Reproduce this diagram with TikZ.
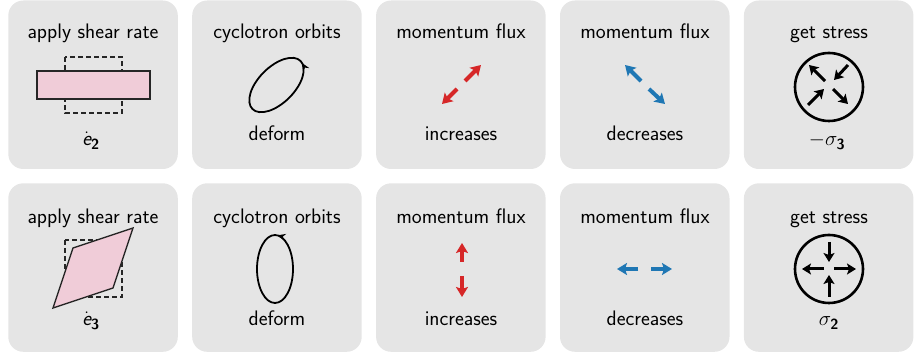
\documentclass[tikz,border=0pt]{standalone}
\usepackage{amsmath}
\usetikzlibrary{arrows.meta,decorations.markings}
\definecolor{panelgray}{RGB}{229,229,229}
\definecolor{shearpink}{RGB}{240,204,216}
\definecolor{fluxred}{RGB}{214,39,40}
\definecolor{fluxblue}{RGB}{31,119,180}
\begin{document}
\begin{tikzpicture}[x=1pt,y=-1pt,
  font=\sffamily\fontsize{21}{25}\selectfont,
  panel/.style={fill=panelgray, rounded corners=15pt},
  txt/.style={anchor=base, inner sep=0pt},
  dashedbox/.style={dashed, dash pattern=on 5pt off 3pt, line width=1.4pt, draw=black!85},
  shearshape/.style={draw=black!85, line width=1.4pt, fill=shearpink},
  orbit/.style={line width=1.8pt, postaction={decorate, decoration={markings,
      mark=at position #1 with {\arrow{Stealth[length=8pt,width=7pt]}}}}},
  redarrow/.style={draw=fluxred, line width=4pt, -{Stealth[length=10pt,width=12pt,inset=2pt]}},
  bluearrow/.style={draw=fluxblue, line width=4pt, -{Stealth[length=10pt,width=12pt,inset=2pt]}},
  stressarrow/.style={draw=black, line width=3pt, -{Stealth[length=9pt,width=11pt,inset=2pt]}},
  stresscircle/.style={draw=black, line width=2.6pt}
]
\useasboundingbox (0,0) rectangle (914,355);
% panels
\foreach \i in {0,...,4} {
  \foreach \t in {0.5,183.3} {
    \fill[panel] ({8.3+183.9*\i},\t) rectangle ++(169.5,168.5);
  }
}
% titles
\node[txt] (t11) at (93,39) {apply shear rate};
\node[txt] (t12) at (277,39) {cyclotron orbits};
\node[txt] (t13) at (461,39) {momentum flux};
\node[txt] (t14) at (645,39) {momentum flux};
\node[txt] (t15) at (829,39) {get stress};
\node[txt] (t21) at (93,224) {apply shear rate};
\node[txt] (t22) at (277,224) {cyclotron orbits};
\node[txt] (t23) at (461,224) {momentum flux};
\node[txt] (t24) at (645,224) {momentum flux};
\node[txt] (t25) at (829,224) {get stress};
% bottom labels
\node[txt] (b11) at (91,146) {$\dot{\text{\itshape e}}_{\text{\bfseries 2}}$};
\node[txt] (b12) at (277,141) {deform};
\node[txt] (b13) at (461,141) {increases};
\node[txt] (b14) at (645,141) {decreases};
\node[txt] (b15) at (827,146) {$-\sigma_{\text{\bfseries 3}}$};
\node[txt] (b21) at (91,326) {$\dot{\text{\itshape e}}_{\text{\bfseries 3}}$};
\node[txt] (b22) at (277,326) {deform};
\node[txt] (b23) at (461,326) {increases};
\node[txt] (b24) at (645,326) {decreases};
\node[txt] (b25) at (829,326) {$\sigma_{\text{\bfseries 2}}$};
% shear panels
\draw[dashedbox] (65,57) rectangle (122,113);
\draw[shearshape] (37,71) rectangle (150,99);
\draw[dashedbox] (65,240) rectangle (122,297);
\draw[shearshape] (53,308) -- (73,248) -- (133,228) -- (113,288) -- cycle;
% orbits
\draw[orbit=0.985, rotate around={45:(276.5,85)}] (276.5,85) ellipse [x radius=34pt, y radius=18pt];
\draw[orbit=0.235] (275,269) ellipse [x radius=18pt, y radius=34pt];
% red arrows
\coordinate (r1a) at (465,81); \coordinate (r1b) at (481,65);
\coordinate (r1c) at (457,89); \coordinate (r1d) at (442,104);
\draw[redarrow] (r1a) -- (r1b);
\draw[redarrow] (r1c) -- (r1d);
\coordinate (r2a) at (462,262); \coordinate (r2b) at (462,243);
\coordinate (r2c) at (462,276); \coordinate (r2d) at (462,297);
\draw[redarrow] (r2a) -- (r2b);
\draw[redarrow] (r2c) -- (r2d);
% blue arrows
\coordinate (u1a) at (641,81); \coordinate (u1b) at (625,65);
\coordinate (u1c) at (649,89); \coordinate (u1d) at (665,104);
\draw[bluearrow] (u1a) -- (u1b);
\draw[bluearrow] (u1c) -- (u1d);
\coordinate (u2a) at (638,269); \coordinate (u2b) at (617,269);
\coordinate (u2c) at (651,269); \coordinate (u2d) at (672,269);
\draw[bluearrow] (u2a) -- (u2b);
\draw[bluearrow] (u2c) -- (u2d);
% stress circles
\draw[stresscircle] (829,87) circle [radius=34pt];
\coordinate (s1a) at (825,81); \coordinate (s1b) at (809,65);
\coordinate (s1c) at (848,65); \coordinate (s1d) at (834,80);
\coordinate (s1e) at (808,105); \coordinate (s1f) at (824,89);
\coordinate (s1g) at (833,89); \coordinate (s1h) at (848,104);
\draw[stressarrow] (s1a) -- (s1b);
\draw[stressarrow] (s1c) -- (s1d);
\draw[stressarrow] (s1e) -- (s1f);
\draw[stressarrow] (s1g) -- (s1h);
\draw[stresscircle] (829,269) circle [radius=34pt];
\coordinate (s2a) at (829,242); \coordinate (s2b) at (829,262);
\coordinate (s2c) at (829,297); \coordinate (s2d) at (829,275);
\coordinate (s2e) at (824,269); \coordinate (s2f) at (802,269);
\coordinate (s2g) at (834,269); \coordinate (s2h) at (856,269);
\draw[stressarrow] (s2a) -- (s2b);
\draw[stressarrow] (s2c) -- (s2d);
\draw[stressarrow] (s2e) -- (s2f);
\draw[stressarrow] (s2g) -- (s2h);
\end{tikzpicture}
\end{document}
